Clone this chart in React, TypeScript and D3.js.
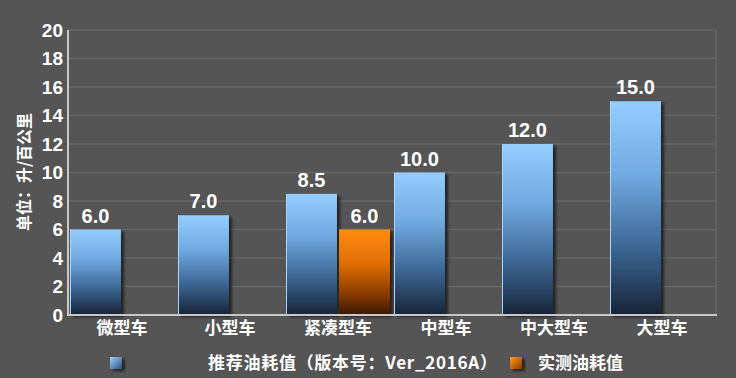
import React from "react";
import * as d3 from "d3";

const categories = ["微型车", "小型车", "紧凑型车", "中型车", "中大型车", "大型车"];
const recommended = [6.0, 7.0, 8.5, 10.0, 12.0, 15.0];
const actual: (number | null)[] = [null, null, 6.0, null, null, null];
const yTicks = [0, 2, 4, 6, 8, 10, 12, 14, 16, 18, 20];
const seriesNames = ["推荐油耗值（版本号：Ver_2016A）", "实测油耗值"];

const W = 736;
const H = 378;
const left = 68;
const right = 716;
const top = 30;
const bottom = 315;

export default function App() {
  const x = d3.scaleBand<string>().domain(categories).range([left, right]).paddingInner(0).paddingOuter(0);
  const inner = d3.scaleBand<string>().domain(["rec", "act"]).range([2, x.bandwidth() - 2]).paddingInner(0.04);
  const y = d3.scaleLinear().domain([0, 20]).range([bottom, top]);
  const numFont = "'Liberation Sans', Arial, sans-serif";
  const cjkFont = "'Noto Sans CJK SC', 'Liberation Sans', sans-serif";

  return (
    <svg width={W} height={H} style={{ position: "absolute", left: 0, top: 0, display: "block" }}>
      <defs>
        <linearGradient id="gBlue" x1="0" y1="0" x2="0" y2="1">
          <stop offset="0" stopColor="#96cdff" />
          <stop offset="0.35" stopColor="#70a8e0" />
          <stop offset="0.7" stopColor="#3a6490" />
          <stop offset="1" stopColor="#182437" />
        </linearGradient>
        <linearGradient id="gOrange" x1="0" y1="0" x2="0" y2="1">
          <stop offset="0" stopColor="#ff8c10" />
          <stop offset="0.4" stopColor="#e06e05" />
          <stop offset="0.75" stopColor="#8a3c02" />
          <stop offset="1" stopColor="#3a1805" />
        </linearGradient>
        <linearGradient id="gBlueLeg" x1="0" y1="0" x2="1" y2="1">
          <stop offset="0" stopColor="#9fd2ff" />
          <stop offset="1" stopColor="#2c4f7a" />
        </linearGradient>
        <linearGradient id="gOrangeLeg" x1="0" y1="0" x2="1" y2="1">
          <stop offset="0" stopColor="#ff9a20" />
          <stop offset="1" stopColor="#8a3c02" />
        </linearGradient>
        <filter id="shadow" x="-20%" y="-20%" width="150%" height="150%">
          <feDropShadow dx="3" dy="2" stdDeviation="1.5" floodColor="#000" floodOpacity="0.6" />
        </filter>
      </defs>
      <rect x={0} y={0} width={W} height={H} fill="#555555" />

      {yTicks.map((t) => (
        <line key={"g" + t} x1={left} x2={right} y1={y(t)} y2={y(t)} stroke="#676767" strokeWidth={1.5} />
      ))}
      <line x1={right} x2={right} y1={top} y2={bottom} stroke="#676767" strokeWidth={1.5} />

      {categories.map((c, i) => {
        const x0 = x(c)!;
        const rv = recommended[i];
        const av = actual[i];
        return (
          <g key={c}>
            <g filter="url(#shadow)">
              <rect x={x0 + inner("rec")!} y={y(rv)} width={inner.bandwidth()} height={bottom - y(rv)} fill="url(#gBlue)" />
              {av != null && (
                <rect x={x0 + inner("act")!} y={y(av)} width={inner.bandwidth()} height={bottom - y(av)} fill="url(#gOrange)" />
              )}
            </g>
            <line x1={x0 + inner("rec")! + 0.5} x2={x0 + inner("rec")! + 0.5} y1={y(rv)} y2={bottom} stroke="#a8d6ff" strokeWidth={1} />
            <text x={x0 + inner("rec")! + inner.bandwidth() / 2} y={y(rv) - 7} textAnchor="middle" fill="#ffffff" fontFamily={numFont} fontWeight="bold" fontSize={20}>
              {rv.toFixed(1)}
            </text>
            {av != null && (
              <text x={x0 + inner("act")! + inner.bandwidth() / 2} y={y(av) - 7} textAnchor="middle" fill="#ffffff" fontFamily={numFont} fontWeight="bold" fontSize={20}>
                {av.toFixed(1)}
              </text>
            )}
            <text x={x0 + x.bandwidth() / 2} y={334} textAnchor="middle" fill="#ffffff" fontFamily={cjkFont} fontWeight="bold" fontSize={17}>
              {c}
            </text>
          </g>
        );
      })}

      <line x1={left} x2={left} y1={top} y2={bottom + 1} stroke="#c8c8c8" strokeWidth={2} />
      <line x1={left - 1} x2={right + 1} y1={bottom} y2={bottom} stroke="#c8c8c8" strokeWidth={2} />

      {yTicks.map((t) => (
        <text key={"t" + t} x={63} y={y(t)} dy="0.36em" textAnchor="end" fill="#ffffff" fontFamily={numFont} fontWeight="bold" fontSize={19}>
          {t}
        </text>
      ))}

      <text transform={`translate(30,172) rotate(-90)`} textAnchor="middle" fill="#ffffff" fontFamily={cjkFont} fontWeight="bold" fontSize={16}>
        单位：升/百公里
      </text>

      <rect x={110} y={357} width={12} height={12} fill="url(#gBlueLeg)" filter="url(#shadow)" />
      <text x={208} y={369} fill="#ffffff" fontFamily={cjkFont} fontWeight="bold" fontSize={17} textLength={289} lengthAdjust="spacing">
        {seriesNames[0]}
      </text>
      <rect x={510} y={357} width={12} height={12} fill="url(#gOrangeLeg)" filter="url(#shadow)" />
      <text x={538} y={369} fill="#ffffff" fontFamily={cjkFont} fontWeight="bold" fontSize={17}>
        {seriesNames[1]}
      </text>
    </svg>
  );
}
